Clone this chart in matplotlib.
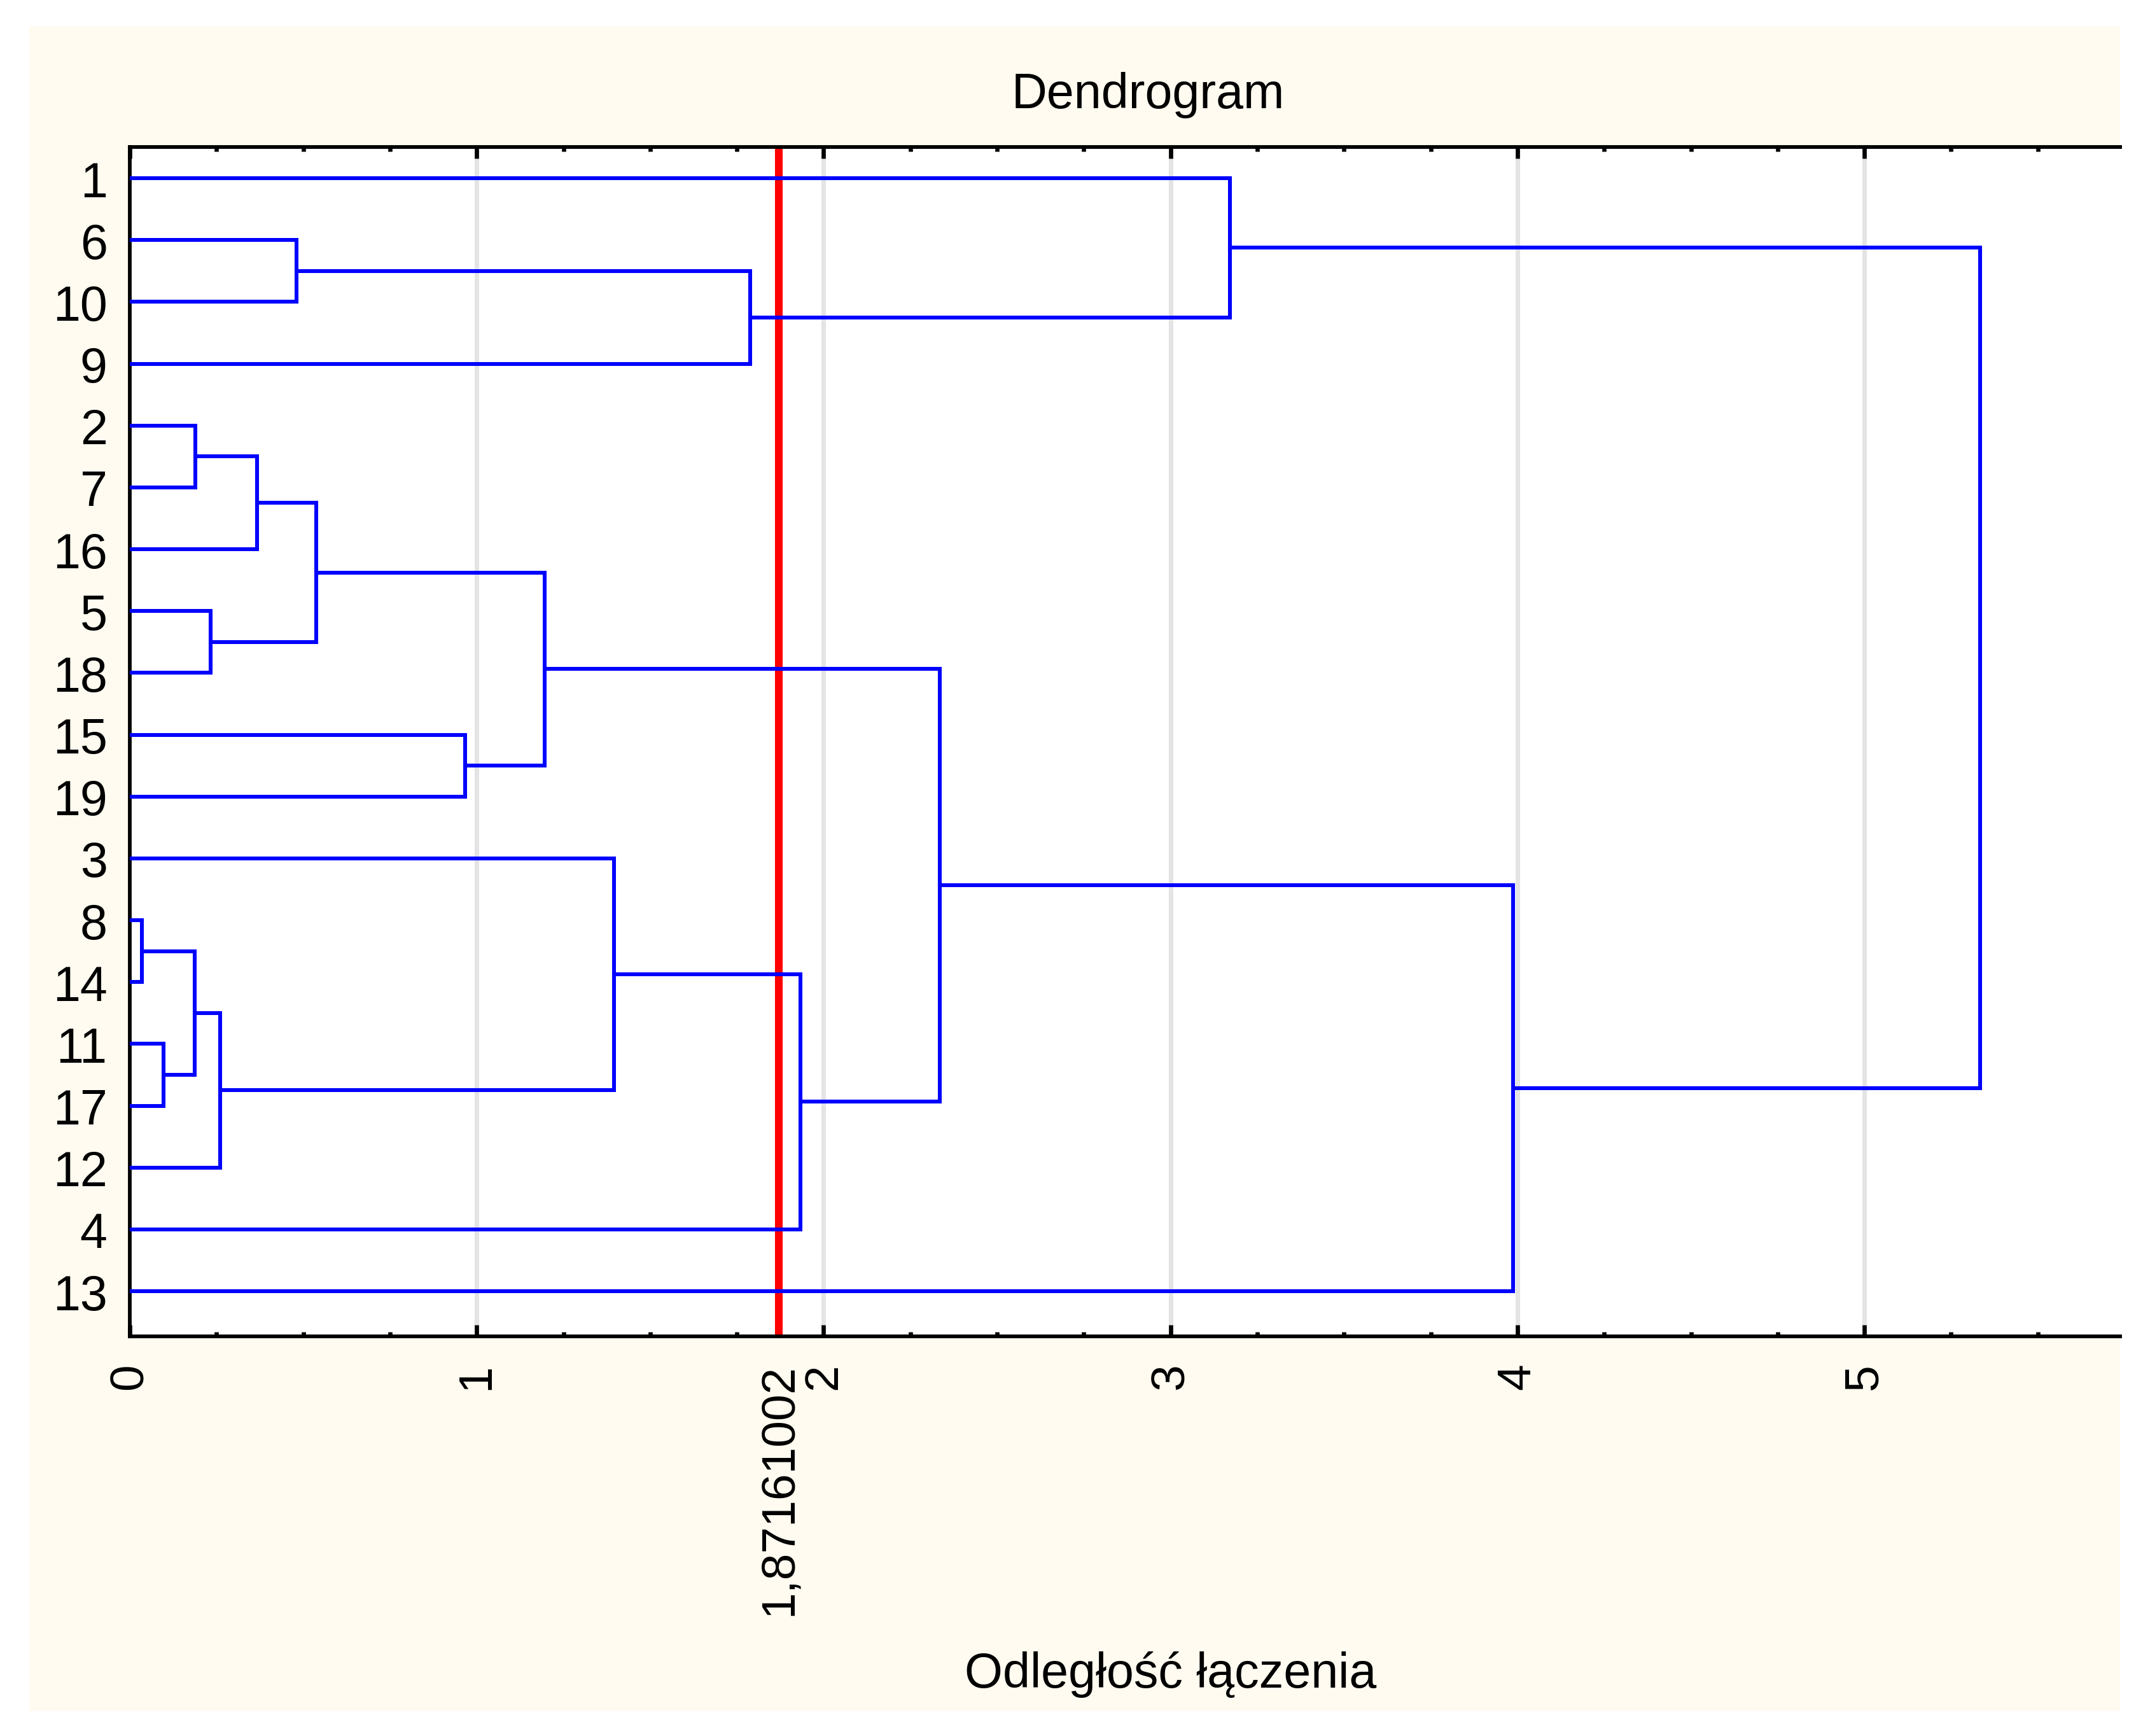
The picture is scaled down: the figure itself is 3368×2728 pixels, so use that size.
import matplotlib
matplotlib.use("Agg")
from matplotlib import pyplot as plt
from matplotlib.patches import Rectangle
from matplotlib.ticker import MultipleLocator

plt.rcParams['font.family'] = ['Liberation Sans', 'DejaVu Sans']

# leaf order, top to bottom
leaves = ['1', '6', '10', '9', '2', '7', '16', '5', '18', '15', '19',
          '3', '8', '14', '11', '17', '12', '4', '13']

# merges: child a, child b (leaf label or index of an earlier merge), linkage distance
merge_a = ['6', 0, '1', '2', 3, '5', 4, '15', 6, '8', '11', 9, 11, '3', 13, 8, 15, 2]
merge_b = ['10', '9', 1, '7', '16', '18', 5, '19', 7, '14', '17', 10, '12', 12, '4', 14, '13', 16]
merge_h = [0.480, 1.789, 3.171, 0.189, 0.367, 0.233, 0.537, 0.966, 1.195,
           0.035, 0.098, 0.187, 0.261, 1.395, 1.934, 2.334, 3.987, 5.333]

cut = 1.87161002
cut_label = "1,87161002"
xticks = [0, 1, 2, 3, 4, 5]

W, H = 3368, 2729
fig = plt.figure(figsize=(W / 300, H / 300), dpi=300, facecolor='white')
fig.patches.append(Rectangle((46 / W, 1 - 2690 / H), (3332 - 46) / W, (2690 - 42) / H,
                             transform=fig.transFigure, facecolor='#FFFBF0',
                             edgecolor='none', zorder=-10))

ax = fig.add_axes([204 / W, 1 - 2101 / H, (3332 - 204) / W, (2101 - 232) / H])
ax.set_facecolor('white')

# positions of nodes
pos = {lab: (0.0, i) for i, lab in enumerate(leaves)}
nodes = []

def get(c):
    if isinstance(c, int):
        return nodes[c]
    return pos[c]

for a, b, h in zip(merge_a, merge_b, merge_h):
    xa, ya = get(a)
    xb, yb = get(b)
    ax.plot([xa, h, h, xb], [ya, ya, yb, yb], color='#0000FF', lw=1.45,
            zorder=3, solid_joinstyle='miter')
    nodes.append((h, (ya + yb) / 2))

for t in xticks[1:]:
    ax.axvline(t, color='#E4E4E4', lw=1.7, zorder=1)
ax.axvline(cut, color='#FF0000', lw=2.9, zorder=2)

ax.set_xlim(0, 5.737)
ax.set_ylim(18.73, -0.505)
ax.set_yticks(range(len(leaves)))
ax.set_yticklabels(leaves, fontsize=18.5)
ax.tick_params(axis='y', length=0, pad=8.5)

ax.set_xticks(xticks + [cut])
ax.set_xticklabels([str(t) for t in xticks] + [cut_label], rotation=90, fontsize=18)
ax.xaxis.set_minor_locator(MultipleLocator(0.25))
ax.tick_params(axis='x', which='major', direction='in', length=4.4, width=1.6,
               top=True, pad=10)
ax.tick_params(axis='x', which='minor', direction='in', length=1.7, width=1.6, top=True)
ax.get_xticklines()[-1].set_visible(False)
ax.get_xticklines()[-2].set_visible(False)

ax.spines['right'].set_visible(False)
for s in ['left', 'top', 'bottom']:
    ax.spines[s].set_linewidth(1.4)

fig.text(1804 / W, 1 - 170 / H, "Dendrogram", fontsize=18.5, ha='center', va='baseline')
fig.text(1840 / W, 1 - 2652 / H, "Odległość łączenia", fontsize=18.5, ha='center', va='baseline')

fig.savefig("out.png", dpi=300)
